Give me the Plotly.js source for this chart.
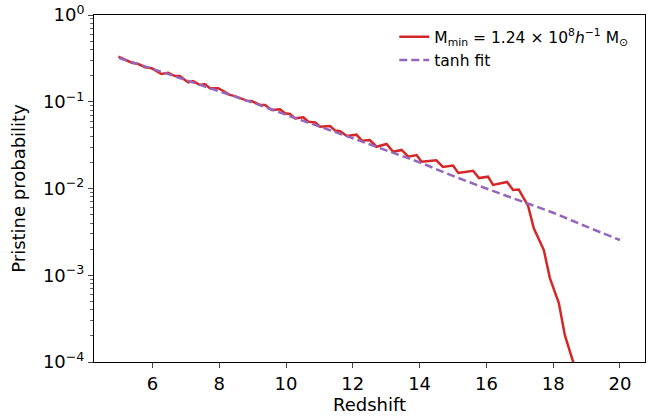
<!DOCTYPE html>
<html>
<head>
<meta charset="utf-8">
<script src="https://cdn.plot.ly/plotly-3.0.1.min.js"></script>
<style>html,body{margin:0;padding:0;background:#fff;}#chart{width:655px;height:416px;}</style>
</head>
<body>
<div id="chart"></div>
<script>
// Red series: pristine probability vs redshift
const redZ = [4.98,5.18,5.38,5.58,5.78,5.98,6.27,6.47,6.67,6.82,7.07,7.22,7.42,7.57,7.72,7.97,8.15,8.32,8.47,8.62,8.82,8.97,9.22,9.37,9.57,9.82,9.97,10.12,10.27,10.52,10.67,10.87,11.02,11.32,11.47,11.62,11.82,12.11,12.27,12.51,12.71,13.01,13.21,13.46,13.66,13.91,14.06,14.5,14.7,15.0,15.16,15.6,15.78,16.05,16.2,16.62,16.8,16.97,17.25,17.42,17.72,17.9,18.17,18.35,18.6,18.85];
const redP = [0.331,0.308,0.282,0.272,0.249,0.243,0.209,0.216,0.198,0.198,0.167,0.173,0.156,0.160,0.143,0.143,0.132,0.120,0.116,0.110,0.103,0.102,0.0918,0.0918,0.0804,0.0818,0.0736,0.0723,0.0644,0.0661,0.0589,0.0579,0.0516,0.0525,0.0465,0.0457,0.0403,0.0417,0.0356,0.0362,0.0303,0.0326,0.0265,0.0278,0.0233,0.0243,0.0204,0.0211,0.0177,0.0184,0.0151,0.0160,0.0132,0.0137,0.0110,0.0119,0.00962,0.00973,0.00631,0.00347,0.00195,0.000933,0.000479,0.000204,0.000100,0.0000398];
// tanh fit
const fitZ = [5,6,7,8,9,10,11,12,13,14,15,16,17,18,19,20];
const fitP = [0.319,0.240,0.178,0.132,0.0977,0.0708,0.0519,0.0380,0.0275,0.0200,0.01396,0.0100,0.00724,0.00525,0.00363,0.00255];
// ticks
const xTicks = [6,8,10,12,14,16,18,20];
const yTickVals = [1e-4,1e-3,1e-2,1e-1,1];
const yTickText = ["10<sup>−4</sup>","10<sup>−3</sup>","10<sup>−2</sup>","10<sup>−1</sup>","10<sup>0</sup>"];
const minorDigits = [2,3,4,5,6,7,8,9];
const redName = "M<sub>min</sub> = 1.24 × 10<sup>8</sup><i>h</i><sup>−1</sup> M<sub>⊙</sub>";
const fitName = "tanh fit";

const yMinor = [];
yTickVals.slice(0, 4).forEach(d => minorDigits.forEach(m => yMinor.push(d * m)));

const font = "DejaVu Sans, sans-serif";
const traces = [
  {x: redZ, y: redP, type: "scatter", mode: "lines", name: redName,
   line: {color: "#d62728", width: 2.5}},
  {x: fitZ, y: fitP, type: "scatter", mode: "lines", name: fitName,
   line: {color: "#9467bd", width: 2.5, dash: "8px,4px", shape: "spline"}}
];
const layout = {
  width: 655, height: 416,
  margin: {l: 94, r: 10, t: 15, b: 54},
  paper_bgcolor: "#fff", plot_bgcolor: "#fff",
  font: {family: font, color: "#000", size: 16},
  showlegend: true,
  legend: {x: 0.545, y: 0.985, xanchor: "left", yanchor: "top", bgcolor: "rgba(255,255,255,0)",
           font: {family: font, size: 15.5}, tracegroupgap: 0, itemwidth: 30},
  xaxis: {range: [4.25, 20.75], tickvals: xTicks, ticks: "outside", ticklen: 5, tickwidth: 1,
          showline: true, mirror: true, linecolor: "#000", linewidth: 1, showgrid: false, zeroline: false,
          tickfont: {size: 18}, title: {text: "Redshift", font: {size: 18}, standoff: 4}},
  yaxis: {type: "log", range: [-4, 0], tickvals: yTickVals, ticktext: yTickText, ticks: "outside",
          ticklen: 5, tickwidth: 1, showline: true, mirror: true, linecolor: "#000", linewidth: 1,
          showgrid: false, zeroline: false, tickfont: {size: 18},
          minor: {ticks: "outside", ticklen: 3, tickwidth: 0.8, tickmode: "array", tickvals: yMinor, showgrid: false},
          title: {text: "Pristine probability", font: {size: 18}, standoff: 12}}
};
Plotly.newPlot("chart", traces, layout, {displayModeBar: false, staticPlot: true});
</script>
</body>
</html>
